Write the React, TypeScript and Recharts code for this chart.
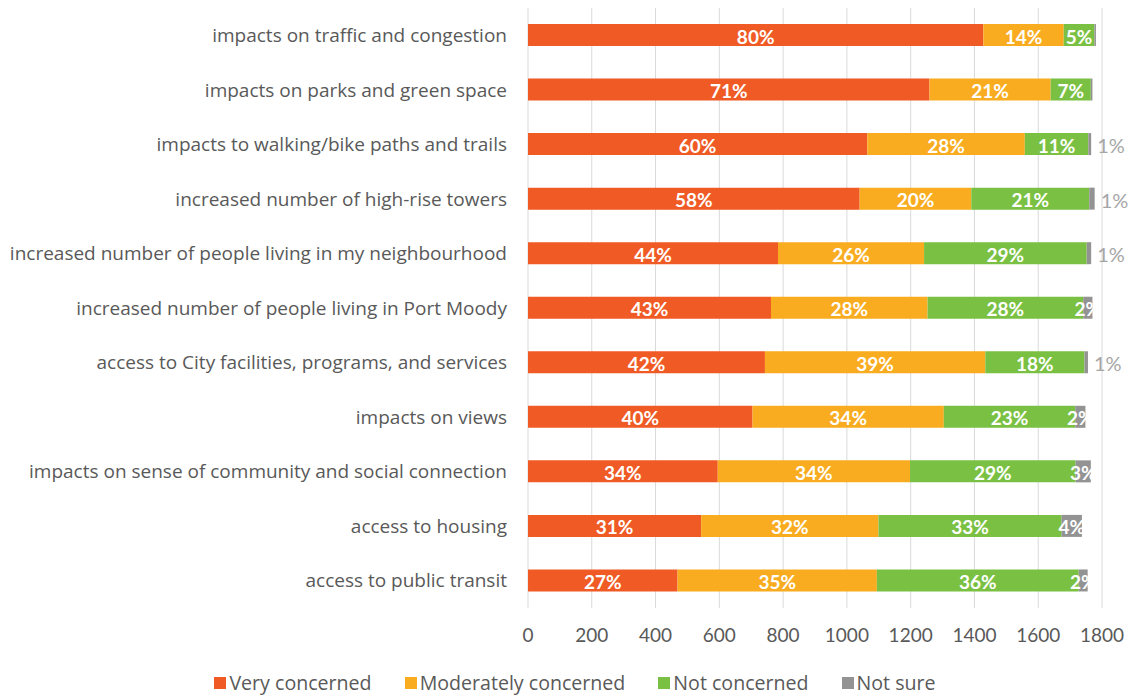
import React from "react";
import { BarChart, Bar, XAxis, YAxis, CartesianGrid, Legend, LabelList } from "recharts";

const categories = [
  "impacts on traffic and congestion",
  "impacts on parks and green space",
  "impacts to walking/bike paths and trails",
  "increased number of high-rise towers",
  "increased number of people living in my neighbourhood",
  "increased number of people living in Port Moody",
  "access to City facilities, programs, and services",
  "impacts on views",
  "impacts on sense of community and social connection",
  "access to housing",
  "access to public transit",
];

const veryConcerned = [1428, 1259, 1064, 1040, 784, 762, 743, 704, 595, 543, 469];
const moderatelyConcerned = [252, 380, 494, 350, 458, 491, 691, 600, 603, 556, 625];
const notConcerned = [96, 126, 199, 370, 510, 488, 311, 412, 519, 574, 633];
const notSure = [5, 5, 9, 17, 14, 29, 11, 32, 48, 64, 28];

const vcLabels = ["80%", "71%", "60%", "58%", "44%", "43%", "42%", "40%", "34%", "31%", "27%"];
const mcLabels = ["14%", "21%", "28%", "20%", "26%", "28%", "39%", "34%", "34%", "32%", "35%"];
const ncLabels = ["5%", "7%", "11%", "21%", "29%", "28%", "18%", "23%", "29%", "33%", "36%"];
const nsLabels = ["", "", "1%", "1%", "1%", "2%", "1%", "2%", "3%", "4%", "2%"];

const xTicks = [0, 200, 400, 600, 800, 1000, 1200, 1400, 1600, 1800];

const data = categories.map((name, i) => ({
  name,
  vc: veryConcerned[i],
  mc: moderatelyConcerned[i],
  nc: notConcerned[i],
  ns: notSure[i],
  vcLabel: vcLabels[i],
  mcLabel: mcLabels[i],
  ncLabel: ncLabels[i],
  nsLabel: nsLabels[i],
}));

const COLORS = {
  vc: "#F05A24",
  mc: "#F9AC1F",
  nc: "#7AC143",
  ns: "#939393",
};

const FONT = "Lato, 'Open Sans', sans-serif";
const LABEL_FONT = "'Open Sans', sans-serif";
const TEXT = "#595959";

function getBox(props: any) {
  const vb = props.viewBox || {};
  const x = props.x ?? vb.x;
  const y = props.y ?? vb.y;
  const width = props.width ?? vb.width;
  const height = props.height ?? vb.height;
  return { x: Number(x), y: Number(y), width: Number(width), height: Number(height) };
}

const whiteLabel = (props: any) => {
  const { x, y, width, height } = getBox(props);
  if (!props.value) return null;
  return (
    <text
      x={x + width / 2}
      y={y + height / 2 + 1}
      textAnchor="middle"
      dominantBaseline="central"
      fill="#FFFFFF"
      fontWeight="bold"
      fontSize={19}
      fontFamily={FONT}
    >
      {props.value}
    </text>
  );
};

const nsLabel = (props: any) => {
  const { x, y, width, height } = getBox(props);
  const v = props.value;
  if (!v) return null;
  if (v === "1%") {
    return (
      <text
        x={x + width + 6}
        y={y + height / 2 + 1}
        textAnchor="start"
        dominantBaseline="central"
        fill="#A6A6A6"
        fontSize={20}
        fontFamily={FONT}
      >
        {v}
      </text>
    );
  }
  return (
    <text
      x={x + width / 2}
      y={y + height / 2 + 1}
      textAnchor="middle"
      dominantBaseline="central"
      fill="#FFFFFF"
      fontWeight="bold"
      fontSize={19}
      fontFamily={FONT}
    >
      {v}
    </text>
  );
};

const legendItems = [
  { label: "Very concerned", color: COLORS.vc },
  { label: "Moderately concerned", color: COLORS.mc },
  { label: "Not concerned", color: COLORS.nc },
  { label: "Not sure", color: COLORS.ns },
];

const renderLegend = () => (
  <div
    style={{
      display: "flex",
      justifyContent: "center",
      alignItems: "center",
      fontFamily: LABEL_FONT,
      fontSize: 19.6,
      lineHeight: "22px",
      color: TEXT,
      gap: 33,
      paddingLeft: 48,
      paddingTop: 20,
    }}
  >
    {legendItems.map((it) => (
      <div key={it.label} style={{ display: "flex", alignItems: "center" }}>
        <span
          style={{
            display: "inline-block",
            width: 12,
            height: 12,
            background: it.color,
            marginRight: 3,
          }}
        />
        <span>{it.label}</span>
      </div>
    ))}
  </div>
);

export default function App() {
  return (
    <div style={{ position: "absolute", left: 0, top: 0, width: 1128, height: 696, background: "#fff" }}>
      <BarChart
        width={1128}
        height={696}
        data={data}
        layout="vertical"
        margin={{ top: 8, right: 26, left: 0, bottom: 0 }}
        barSize={22}
        style={{ fontFamily: FONT }}
      >
        <CartesianGrid horizontal={false} stroke="#D9D9D9" strokeWidth={1} />
        <XAxis
          type="number"
          domain={[0, 1800]}
          ticks={xTicks}
          axisLine={false}
          tickLine={false}
          tickMargin={15}
          height={44}
          tick={{ fill: TEXT, fontSize: 19, fontFamily: FONT }}
        />
        <YAxis
          type="category"
          dataKey="name"
          width={528}
          axisLine={false}
          tickLine={false}
          tickMargin={15}
          interval={0}
          tick={{ fill: TEXT, fontSize: 19, fontFamily: LABEL_FONT }}
        />
        <Legend verticalAlign="bottom" content={renderLegend} wrapperStyle={{ height: 44 }} />
        <Bar dataKey="vc" stackId="a" fill={COLORS.vc} isAnimationActive={false} name="Very concerned">
          <LabelList dataKey="vcLabel" content={whiteLabel} />
        </Bar>
        <Bar dataKey="mc" stackId="a" fill={COLORS.mc} isAnimationActive={false} name="Moderately concerned">
          <LabelList dataKey="mcLabel" content={whiteLabel} />
        </Bar>
        <Bar dataKey="nc" stackId="a" fill={COLORS.nc} isAnimationActive={false} name="Not concerned">
          <LabelList dataKey="ncLabel" content={whiteLabel} />
        </Bar>
        <Bar dataKey="ns" stackId="a" fill={COLORS.ns} isAnimationActive={false} name="Not sure">
          <LabelList dataKey="nsLabel" content={nsLabel} />
        </Bar>
      </BarChart>
    </div>
  );
}
